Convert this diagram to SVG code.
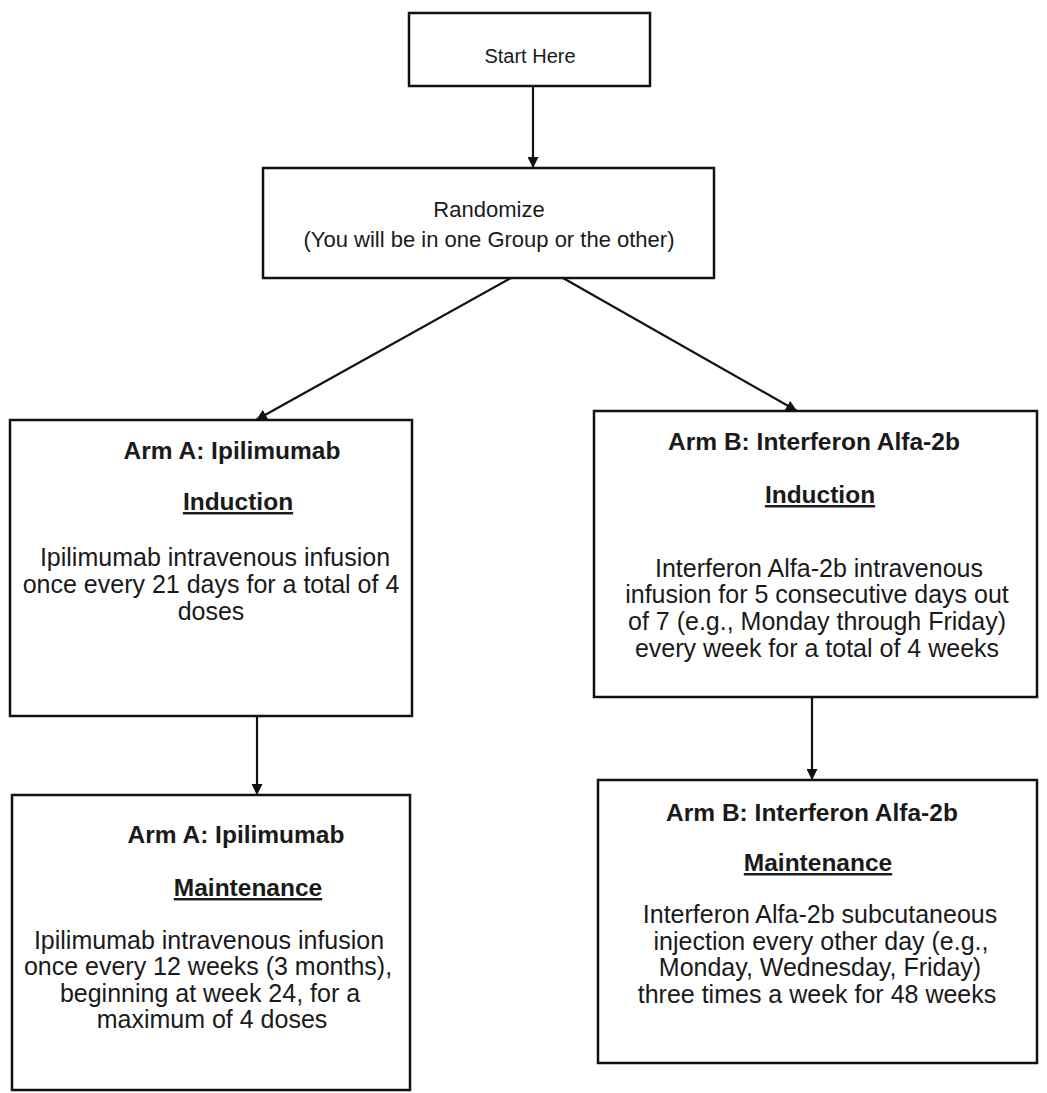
<svg xmlns="http://www.w3.org/2000/svg" width="1047" height="1093" viewBox="0 0 1047 1093">
<style>
.box{fill:#fff;stroke:#111;stroke-width:2.5}
.t{font-family:"Liberation Sans",Arial,sans-serif;font-size:25px;fill:#1a1a1a;text-anchor:middle}
.b{font-weight:bold;font-size:24.5px}
.u{text-decoration:underline}
.r{font-size:22px}
.s{font-size:20px}
.c{stroke:#111;stroke-width:2.2;fill:none}
</style>
<defs>
<marker id="ah" viewBox="0 0 10 10" refX="10" refY="5" markerWidth="11" markerHeight="11" markerUnits="userSpaceOnUse" orient="auto"><path d="M0,0 L10,5 L0,10 z" fill="#111"/></marker>
</defs>
<rect width="1047" height="1093" fill="#fff"/>
<g id="connectors">
<line class="c" x1="533" y1="86" x2="533" y2="168" marker-end="url(#ah)"/>
<line class="c" x1="511" y1="278" x2="256" y2="420" marker-end="url(#ah)"/>
<line class="c" x1="563" y1="278" x2="797" y2="411" marker-end="url(#ah)"/>
<line class="c" x1="257" y1="716" x2="257" y2="795" marker-end="url(#ah)"/>
<line class="c" x1="812" y1="697" x2="812" y2="780" marker-end="url(#ah)"/>
</g>
<g id="start">
<rect class="box" x="409" y="13" width="241" height="73"/>
<text class="t s" x="530" y="63">Start Here</text>
</g>
<g id="randomize">
<rect class="box" x="263" y="168" width="451" height="110"/>
<text class="t r" x="489" y="217">Randomize</text>
<text class="t r" x="489" y="247">(You will be in one Group or the other)</text>
</g>
<g id="armA-induction">
<rect class="box" x="10" y="420" width="402" height="296"/>
<text class="t b" x="232" y="459">Arm A: Ipilimumab</text>
<text class="t b u" x="238" y="510">Induction</text>
<text class="t" x="215" y="566">Ipilimumab intravenous infusion</text>
<text class="t" x="211" y="593">once every 21 days for a total of 4</text>
<text class="t" x="211" y="620">doses</text>
</g>
<g id="armB-induction">
<rect class="box" x="594" y="411" width="443" height="286"/>
<text class="t b" x="814" y="450">Arm B: Interferon Alfa-2b</text>
<text class="t b u" x="820" y="503">Induction</text>
<text class="t" x="819" y="577">Interferon Alfa-2b intravenous</text>
<text class="t" x="817" y="603">infusion for 5 consecutive days out</text>
<text class="t" x="817" y="630">of 7 (e.g., Monday through Friday)</text>
<text class="t" x="817" y="657">every week for a total of 4 weeks</text>
</g>
<g id="armA-maintenance">
<rect class="box" x="12" y="795" width="398" height="295"/>
<text class="t b" x="236" y="843">Arm A: Ipilimumab</text>
<text class="t b u" x="248" y="896">Maintenance</text>
<text class="t" x="209" y="949">Ipilimumab intravenous infusion</text>
<text class="t" x="208" y="975">once every 12 weeks (3 months),</text>
<text class="t" x="210" y="1002">beginning at week 24, for a</text>
<text class="t" x="212" y="1028">maximum of 4 doses</text>
</g>
<g id="armB-maintenance">
<rect class="box" x="598" y="780" width="439" height="283"/>
<text class="t b" x="812" y="821">Arm B: Interferon Alfa-2b</text>
<text class="t b u" x="818" y="871">Maintenance</text>
<text class="t" x="820" y="923">Interferon Alfa-2b subcutaneous</text>
<text class="t" x="821" y="950">injection every other day (e.g.,</text>
<text class="t" x="820" y="976">Monday, Wednesday, Friday)</text>
<text class="t" x="817" y="1003">three times a week for 48 weeks</text>
</g>
</svg>
